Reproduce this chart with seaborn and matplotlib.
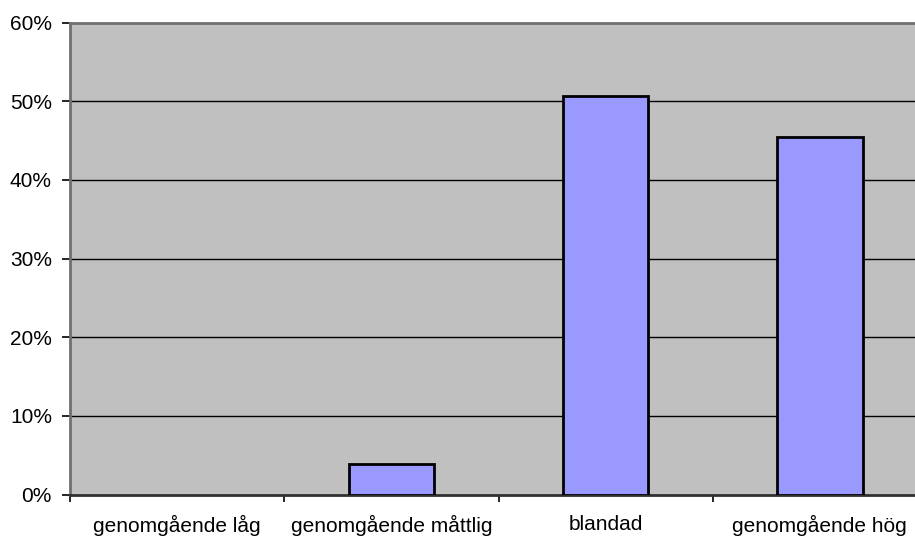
import matplotlib
matplotlib.use("Agg")
import matplotlib.pyplot as plt
import seaborn as sns
import pandas as pd
from matplotlib.ticker import FixedLocator, PercentFormatter

categories = ["genomgående låg", "genomgående måttlig", "blandad", "genomgående hög"]
shares = [0.0, 3.9, 50.7, 45.4]
yticks = [0, 10, 20, 30, 40, 50, 60]

df = pd.DataFrame({"kategori": categories, "andel": shares})

sns.set_style("white")
plt.rcParams["font.family"] = ["Liberation Sans", "DejaVu Sans"]

fig = plt.figure(figsize=(9.15, 5.39), dpi=100)
# plot area runs past the right edge of the picture, like the original
ax = fig.add_axes([70 / 915, 1 - 494.5 / 539, 857 / 915, 472 / 539])
ax.set_facecolor("#C0C0C0")

sns.barplot(data=df, x="kategori", y="andel", color="#9999FF", width=0.4,
            edgecolor="black", linewidth=2, saturation=1, ax=ax, zorder=3)
# no outline for empty bars
for p in ax.patches:
    if p.get_height() == 0:
        p.set_linewidth(0)

ax.set_ylim(0, 60)
ax.set_xlim(-0.5, 3.5)
ax.set_yticks(yticks)
ax.yaxis.set_major_formatter(PercentFormatter(decimals=0))
for y in yticks[1:-1]:
    ax.axhline(y, color="black", linewidth=1, zorder=1)

ax.set_xlabel("")
ax.set_ylabel("")
ax.xaxis.set_minor_locator(FixedLocator([-0.5, 0.5, 1.5, 2.5, 3.5]))
ax.tick_params(axis="x", which="major", length=0, pad=15, labelsize=15, labelcolor="black")
ax.tick_params(axis="x", which="minor", length=5, width=1.2, color="black", direction="out")
ax.tick_params(axis="y", length=6, width=1.2, color="black", direction="out",
               pad=7, labelsize=15, labelcolor="black")
ax.tick_params(bottom=True, left=True, which="both")

for side in ["left", "top"]:
    ax.spines[side].set_color("#707070")
    ax.spines[side].set_linewidth(2)
ax.spines["bottom"].set_color("#303030")
ax.spines["bottom"].set_linewidth(2)
ax.spines["right"].set_visible(False)

fig.savefig("out.png", dpi=100)
